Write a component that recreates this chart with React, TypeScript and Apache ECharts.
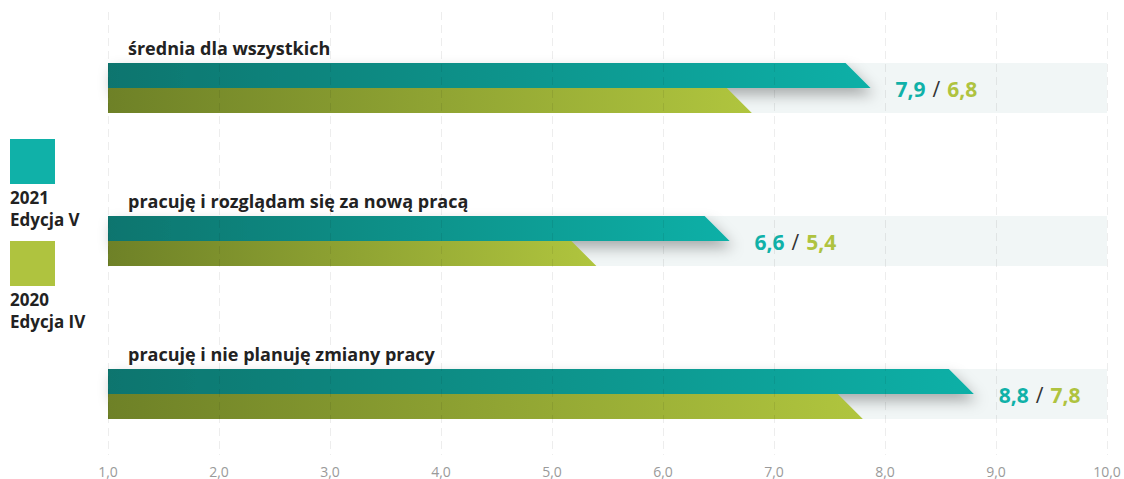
import React, { useEffect, useRef } from "react";
import * as echarts from "echarts";

const categories = [
  "średnia dla wszystkich",
  "pracuję i rozglądam się za nową pracą",
  "pracuję i nie planuję zmiany pracy",
];
const values2021 = [7.87, 6.6, 8.8];
const values2020 = [6.8, 5.4, 7.8];
const legendYears = ["2021", "2020"];
const legendEditions = ["Edycja V", "Edycja IV"];
const AXIS_MIN = 1;
const AXIS_MAX = 10;
const AXIS_STEP = 1;

const TEAL = "#10b1a8";
const GREEN = "#afc33f";
const FONT = '"Open Sans", "Noto Sans", sans-serif';

const fmt = (v: number) => v.toFixed(1).replace(".", ",");

export default function App() {
  const ref = useRef<HTMLDivElement>(null);
  useEffect(() => {
    if (!ref.current) return;
    const chart = echarts.init(ref.current, null, { renderer: "svg" });
    const tealGrad = new echarts.graphic.LinearGradient(0, 0, 1, 0, [
      { offset: 0, color: "#08756e" },
      { offset: 1, color: "#10b0a7" },
    ]);
    const greenGrad = new echarts.graphic.LinearGradient(0, 0, 1, 0, [
      { offset: 0, color: "#6e8127" },
      { offset: 1, color: "#b0c53e" },
    ]);
    const data = categories.map((_, i) => [i, values2021[i], values2020[i]]);

    const legendGraphics: any[] = [];
    const colors = [TEAL, GREEN];
    const legendTops = [139, 241];
    legendYears.forEach((yr, i) => {
      legendGraphics.push({
        type: "rect",
        left: 10,
        top: legendTops[i],
        shape: { width: 45, height: 45 },
        style: { fill: colors[i] },
      });
      legendGraphics.push({
        type: "text",
        left: 10,
        top: legendTops[i] + 47,
        style: {
          text: yr + "\n" + legendEditions[i],
          font: `bold 17px ${FONT}`,
          fill: "#222",
          lineHeight: 22,
        },
      });
    });

    chart.setOption({
      animation: false,
      graphic: legendGraphics,
      grid: [
        { left: 108, right: 17, top: 12, bottom: 24 },
        { left: 108, right: 17, top: 11.5, height: 459 },
      ],
      xAxis: [
        {
          type: "value",
          gridIndex: 0,
          min: AXIS_MIN,
          max: AXIS_MAX,
          interval: AXIS_STEP,
          z: 5,
          axisLine: { show: false },
          axisTick: { show: false },
          axisLabel: {
            color: "#9a9a9a",
            fontFamily: FONT,
            fontSize: 14,
            lineHeight: 14,
            margin: 9,
            formatter: (v: number) => fmt(v),
          },
          splitLine: {
            show: true,
            lineStyle: { color: "rgba(0,0,0,0.07)", type: [8, 5], width: 1 },
          },
        },
        {
          type: "value",
          gridIndex: 1,
          min: AXIS_MIN,
          max: AXIS_MAX,
          show: false,
        },
      ],
      yAxis: [
        { type: "value", gridIndex: 0, show: false },
        {
          type: "category",
          gridIndex: 1,
          data: categories,
          inverse: true,
          show: false,
        },
      ],
      series: [
        {
          type: "custom",
          xAxisIndex: 1,
          yAxisIndex: 1,
          z: 1,
          data,
          renderItem: (params: any, api: any) => {
            const idx = api.value(0);
            const v21 = api.value(1);
            const v20 = api.value(2);
            const p0 = api.coord([AXIS_MIN, idx]);
            const x0 = p0[0];
            const cy = p0[1];
            const xEnd = api.coord([AXIS_MAX, idx])[0];
            const x21 = api.coord([v21, idx])[0];
            const x20 = api.coord([v20, idx])[0];
            const h = 25;
            return {
              type: "group",
              children: [
                {
                  type: "rect",
                  shape: { x: x0, y: cy - h, width: xEnd - x0, height: 2 * h },
                  style: { fill: "#f1f6f6" },
                },
                {
                  type: "polygon",
                  shape: {
                    points: [
                      [x0, cy - h],
                      [x21 - h, cy - h],
                      [x21, cy],
                      [x0, cy],
                    ],
                  },
                  style: {
                    fill: tealGrad,
                    shadowBlur: 14,
                    shadowOffsetX: 4,
                    shadowOffsetY: 7,
                    shadowColor: "rgba(0,0,0,0.3)",
                  },
                },
                {
                  type: "polygon",
                  shape: {
                    points: [
                      [x0, cy],
                      [x20 - h, cy],
                      [x20, cy + h],
                      [x0, cy + h],
                    ],
                  },
                  style: { fill: greenGrad },
                },
                {
                  type: "text",
                  x: x0 + 20,
                  y: cy - h - 15,
                  style: {
                    text: categories[idx],
                    font: `bold 18px ${FONT}`,
                    fill: "#222",
                    verticalAlign: "middle",
                    align: "left",
                  },
                },
                {
                  type: "text",
                  x: x21 + 25,
                  y: cy + 1,
                  style: {
                    text: `{a|${fmt(v21)}}{s|/}{b|${fmt(v20)}}`,
                    verticalAlign: "middle",
                    align: "left",
                    rich: {
                      a: { font: `bold 21px ${FONT}`, fill: TEAL },
                      s: { font: `21px ${FONT}`, fill: "#333", padding: [0, 7, 0, 7] },
                      b: { font: `bold 21px ${FONT}`, fill: GREEN },
                    },
                  },
                },
              ],
            };
          },
        },
      ],
    });
    return () => chart.dispose();
  }, []);
  return <div ref={ref} style={{ width: 1124, height: 479, position: "absolute", left: 0, top: 0 }} />;
}
